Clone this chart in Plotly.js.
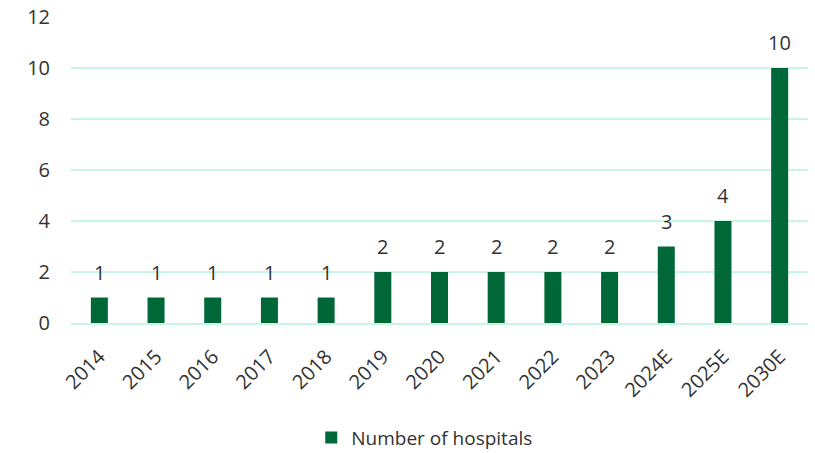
<!DOCTYPE html>
<html>
<head>
<meta charset="utf-8">
<script src="https://cdn.plot.ly/plotly-3.0.1.min.js"></script>
<style>html,body{margin:0;padding:0;background:#fff;}#chart{width:815px;height:453px;}</style>
</head>
<body>
<div id="chart"></div>
<script>
const categories = ["2014","2015","2016","2017","2018","2019","2020","2021","2022","2023","2024E","2025E","2030E"];
const hospitals = [1,1,1,1,1,2,2,2,2,2,3,4,10];
const seriesName = "Number of hospitals";
const yTicks = [0,2,4,6,8,10,12];

const barColor = "#006838";
const textColor = "#333333";
const fontFam = "'Open Sans', sans-serif";

const trace = {
  type: "bar",
  x: categories,
  y: hospitals,
  name: seriesName,
  marker: {color: barColor},
  showlegend: true,
  hoverinfo: "none"
};

const annotations = categories.map((c, i) => ({
  x: i, y: hospitals[i], xref: "x", yref: "y",
  text: String(hospitals[i]), showarrow: false,
  yanchor: "bottom", yshift: 10,
  font: {family: fontFam, size: 20, color: textColor}
}));

const layout = {
  width: 815, height: 453,
  margin: {l: 71, r: 7, t: 17, b: 130, autoexpand: false},
  paper_bgcolor: "#fff", plot_bgcolor: "#fff",
  bargap: 0.7,
  font: {family: fontFam, size: 20, color: textColor},
  xaxis: {
    type: "category",
    categoryorder: "array", categoryarray: categories,
    range: [-0.5, categories.length - 0.5],
    tickangle: -45,
    showgrid: false,
    showline: true, linecolor: "#C6F7E6", linewidth: 2,
    ticks: "",
    ticklabelstandoff: 12,
    tickfont: {family: fontFam, size: 20, color: textColor}
  },
  yaxis: {
    range: [0, 12],
    tickvals: yTicks,
    ticktext: yTicks.map(String),
    gridcolor: "#C6F7E6", gridwidth: 2,
    zeroline: false,
    showline: false,
    ticks: "",
    ticklabelstandoff: 20,
    tickfont: {family: fontFam, size: 20, color: textColor}
  },
  legend: {
    orientation: "h", x: 0.48, xanchor: "center", y: -0.375, yanchor: "middle",
    borderwidth: 0,
    font: {family: fontFam, size: 19, color: textColor}
  },
  annotations: annotations
};

Plotly.newPlot("chart", [trace], layout, {displayModeBar: false, staticPlot: true});
</script>
</body>
</html>
